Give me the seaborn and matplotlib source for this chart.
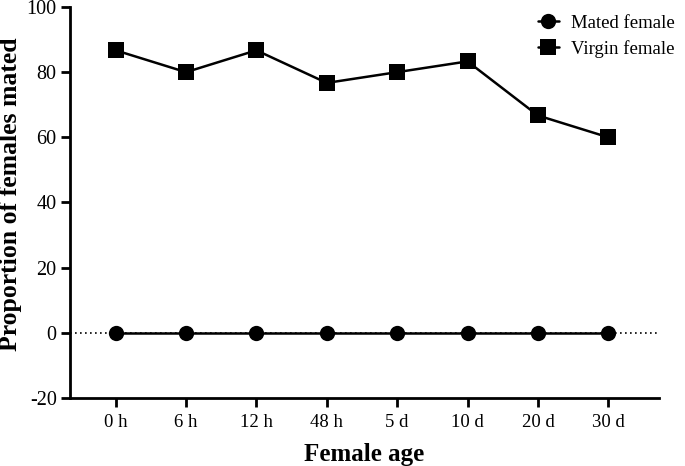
import pandas as pd
import seaborn as sns
from matplotlib import pyplot as plt

ages = ['0 h', '6 h', '12 h', '48 h', '5 d', '10 d', '20 d', '30 d']
mated = [0, 0, 0, 0, 0, 0, 0, 0]
virgin = [86.7, 80.0, 86.7, 76.7, 80.0, 83.3, 66.7, 60.0]

df = pd.concat([
    pd.DataFrame({'age': ages, 'value': mated, 'group': 'Mated female'}),
    pd.DataFrame({'age': ages, 'value': virgin, 'group': 'Virgin female'}),
])

sns.set_style('ticks')
plt.rcParams['font.family'] = ['Liberation Serif', 'DejaVu Serif']
plt.rcParams['axes.unicode_minus'] = False
plt.rcParams['text.color'] = 'black'
plt.rcParams['axes.labelcolor'] = 'black'

fig = plt.figure(figsize=(6.85, 4.66), dpi=100)
ax = fig.add_axes([0.102, 0.146, 0.860, 0.839])

# dotted baseline at zero
ax.axhline(0, color='black', linestyle=(0, (1, 2)), linewidth=1.2, zorder=1)

sns.lineplot(df, x='age', y='value', hue='group', style='group',
             palette=['black', 'black'], markers={'Mated female': 'o', 'Virgin female': 's'},
             dashes=False, markersize=11, linewidth=1.8, markeredgewidth=0,
             ax=ax, zorder=3, sort=False)

ax.set_xlim(-0.65, 7.72)
ax.set_ylim(-20, 100)
ax.set_yticks(range(-20, 101, 20))

for side in ['top', 'right']:
    ax.spines[side].set_visible(False)
for side in ['left', 'bottom']:
    ax.spines[side].set_linewidth(2)
    ax.spines[side].set_color('black')
ax.tick_params(axis='both', width=2, length=6.5, color='black', labelcolor='black')
ax.tick_params(axis='x', labelsize=13.5, pad=5)
ax.tick_params(axis='y', labelsize=14.5, pad=3)

ax.set_xlabel('Female age', fontsize=18, fontweight='bold', labelpad=9)
ax.set_ylabel('Proportion of females mated', fontsize=18.5, fontweight='bold')
ax.yaxis.set_label_coords(-0.082, 0.52)

leg = ax.legend(loc='upper right', bbox_to_anchor=(1.04, 1.0), frameon=False,
                fontsize=13.5, handlelength=1.15, borderaxespad=0.0,
                labelspacing=0.45, handletextpad=0.65)
leg.set_title(None)

plt.savefig('out.png', dpi=100)
